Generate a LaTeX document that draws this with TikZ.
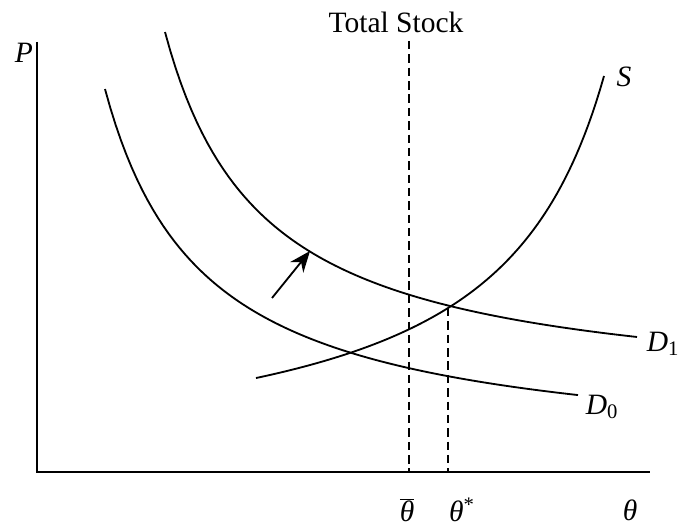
\documentclass[tikz,border=0pt]{standalone}
\usepackage{fontspec}
\setmainfont{Liberation Serif}
\usetikzlibrary{arrows.meta}

\begin{document}
\begin{tikzpicture}[x=0.025cm, y=-0.025cm, >={Stealth[length=15pt,width=12pt]},
  font=\fontsize{21}{25}\selectfont,
  curve/.style={line width=1.3pt},
  guide/.style={line width=1.2pt, dash pattern=on 6pt off 3.5pt}]
  \useasboundingbox (0,0) rectangle (681,531);
  % axes
  \coordinate (O) at (37,472);
  \coordinate (Ptop) at (37,42);
  \coordinate (Qend) at (650,472);
  \draw[line width=1.1pt] (Ptop) -- (O) -- (Qend);
  % supply and the two demand curves
  \draw[curve] plot[domain=256:604, samples=90] (\x, {476.1-452.12/((717-\x)/100)});
  \draw[curve] plot[domain=165:637, samples=90] (\x, {400.5-362.23/((\x-66.7)/100)});
  \draw[curve] plot[domain=105:578, samples=90] (\x, {459.3-367.66/((\x-5.7)/100)});
  % stock and equilibrium
  \coordinate (stocktop) at (409,41);
  \coordinate (stockbot) at (409,472);
  \coordinate (eq) at (448,308);
  \coordinate (eqbot) at (448,472);
  \draw[guide] (stocktop) -- (stockbot);
  \draw[guide] (eq) -- (eqbot);
  % shift of demand
  \coordinate (shiftA) at (272,298);
  \coordinate (shiftB) at (310,251);
  \draw[->, line width=1.3pt] (shiftA) -- (shiftB);
  % labels
  \node (stock) at (396,22) {Total Stock};
  \node (P) at (24,53) {\textit{P}};
  \node (S) at (624,77) {\textit{S}};
  \node (D1) at (663,344) {\textit{D}\textsubscript{1}};
  \node (D0) at (602,407) {\textit{D}\textsubscript{0}};
  \node (tbar) at (407,510) {$\overline{\mbox{\itshape θ}}$};
  \node (tstar) at (462,510) {\textit{θ}\textsuperscript{*}};
  \node (theta) at (630,510) {\textit{θ}};
\end{tikzpicture}
\end{document}
